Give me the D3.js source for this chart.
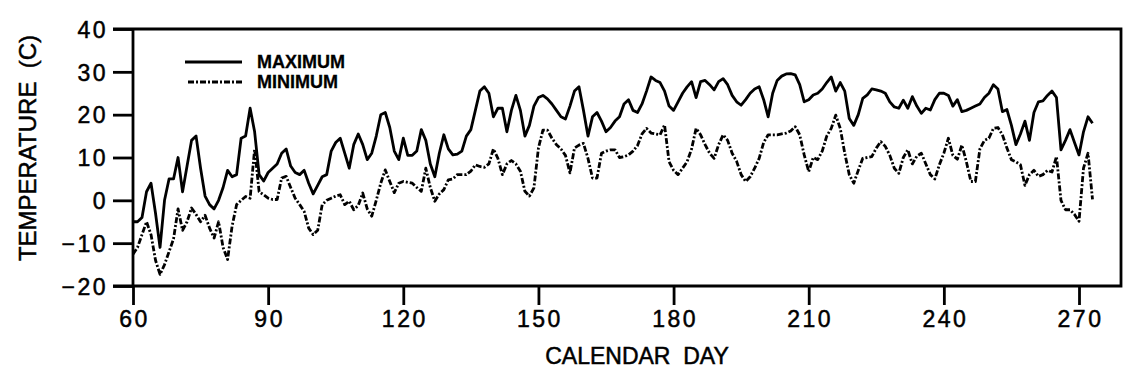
<!DOCTYPE html>
<html lang="en">
<head>
  <meta charset="UTF-8" />
  <title>Temperature by calendar day</title>
  <style>
    body { margin: 0; background: #fff; }
    text {
      font-family: "Liberation Sans", Arial, Helvetica, sans-serif;
      fill: #000;
      stroke: #000;
      stroke-width: 0.5px;
    }
    .tick text { font-size: 23px; letter-spacing: 2.5px; }
    .tick line { stroke: #000; stroke-width: 2.8; }
    .frame { fill: none; stroke: #000; stroke-width: 2.8; }
    .series { fill: none; stroke: #000; stroke-width: 2.8; stroke-linejoin: round; }
    .legend text { font-size: 18px; font-weight: bold; stroke-width: 0.3px; }
  </style>
</head>
<body>
  <svg width="1126" height="381"></svg>

  <script src="https://d3js.org/d3.v7.min.js"></script>
  <script>
    // calendar days 60 .. 273
    const firstDay = 60;
    const xTicks = [60, 90, 120, 150, 180, 210, 240, 270];
    const yTicks = [-20, -10, 0, 10, 20, 30, 40];
    const seriesNames = ['MAXIMUM', 'MINIMUM'];

    const maxTemp = [
      -5, -5, -4, 2, 4, -3, -11, 0, 5, 5, 10, 2, 8, 14, 15, 7.5, 1, -1, -2, 0,
      3, 7, 5.5, 6, 14.5, 15, 21.5, 16, 6, 4.5, 6.5, 7.5, 8.5, 11, 12, 8, 6.5, 6, 7, 4,
      1.5, 3.5, 5.5, 6, 11.5, 13.5, 14.5, 11, 7.5, 13, 15.5, 13, 9.5, 11, 15, 20, 20.5, 17, 11.5, 9.5,
      14.5, 10.5, 10.5, 11.5, 16.5, 14, 8.5, 5.5, 11, 15.3, 12, 10.6, 10.8, 11.5, 15, 16.5, 21, 25.5, 26.5, 25,
      19.5, 21.5, 21.5, 16, 21, 24.5, 21, 15, 17.5, 22, 24, 24.5, 23.7, 22.5, 21, 19.5, 19, 22, 25.5, 26.5,
      21, 15, 19.5, 20.5, 18.5, 16, 17, 18.5, 19.5, 22.5, 23.5, 21, 20.5, 22.5, 25.5, 28.8, 28, 27.5, 25.5, 22,
      21, 23, 25, 26.5, 27.7, 24, 27.7, 28, 27, 25.8, 27.7, 28.4, 27, 24.5, 23, 22.2, 23.5, 25, 26, 26.5,
      23.5, 19.5, 25, 28, 29, 29.5, 29.6, 29.3, 27, 23, 23.5, 24.6, 25, 26, 27.5, 28.8, 25.5, 27.5, 25.5, 19.1,
      17.5, 20, 23.8, 24.6, 26, 25.8, 25.5, 25, 23, 21.8, 21.5, 23.4, 21.5, 24.2, 22, 20.3, 21.5, 21.1, 23.5, 25,
      25, 24.5, 22, 23.5, 20.7, 21, 21.5, 22, 22.5, 24, 25, 27, 26, 20.7, 21.2, 17.5, 13, 15.5, 18.5, 14,
      20.5, 23, 23.2, 24.5, 25.5, 24, 11.8, 14, 16.5, 13.5, 10.6, 16, 19.5, 18
    ];

    const minTemp = [
      -12.6, -11, -8, -5, -8, -14, -17.3, -15, -12, -9, -2, -7, -5, -1.8, -3.3, -5, -3.5, -6.5, -8.8, -5,
      -11, -13.8, -6, -1, 0, 0.9, 0.5, 12, 2, 1.3, 0.5, 0.2, 0.2, 5.2, 5.6, 3, 0.5, -1, -2.6, -6.5,
      -8, -7, -1, 0, 0.5, 1, 1.3, -1, -0.2, -2.2, -1.2, 1.7, -2, -3.7, 0, 4, 7.1, 4.4, 1.8, 4,
      4.4, 4.2, 4, 3, 2.1, 7.5, 3, -0.2, 1.5, 2.5, 4.8, 5, 6, 6, 6, 6.8, 8.3, 7.9, 7.7, 8.5,
      12, 9.8, 6, 8.5, 9.3, 8.5, 6.8, 2.1, 1, 2.9, 12.2, 16.4, 16.4, 14.5, 13, 12, 10.5, 6.4, 12.2, 12.9,
      13.3, 9.8, 5.2, 5.2, 11, 11.5, 11.8, 11.8, 10, 10.2, 10.6, 11.5, 12.8, 15.5, 16.8, 15.7, 15.5, 15.3, 17.6, 9,
      7, 6, 7.5, 9, 12, 16.8, 15.3, 13, 11, 9.8, 13, 15.3, 14, 11, 9.1, 6, 4.4, 5.5, 7.5, 9.8,
      13.5, 15.3, 15.3, 15.3, 15.5, 15.7, 16.2, 17.2, 15.3, 10.6, 6.7, 10, 9.5, 11.5, 15, 16.8, 19.9, 16.8, 11, 6,
      4, 7, 9.8, 10, 10.2, 12.2, 13.7, 12.6, 10.5, 7.5, 6.3, 10, 11.8, 8.5, 10.3, 11, 8.5, 6, 5, 8.3,
      11, 14.5, 10.5, 9.6, 12.9, 9, 4.4, 4.4, 12, 14, 14.5, 16.8, 17, 15.3, 12.2, 9.5, 9, 8.3, 3.5, 6,
      7, 5.6, 6, 7, 6.6, 10.2, 0, -2.2, -2.2, -3.3, -4.9, 7.5, 11, 0.2
    ];

    const svg = d3.select('svg');

    const plotLeft = 133, plotRight = 1121, plotTop = 29, plotBottom = 286;

    // 60 -> 133 px, 270 -> 1079 px
    const x = d3.scaleLinear()
      .domain([60, 270])
      .range([133, 1079]);
    const y = d3.scaleLinear()
      .domain([-20, 40])
      .range([plotBottom, plotTop]);

    const fmt = d => (d < 0 ? '\u2212' + Math.abs(d) : String(d));

    // y axis: outward ticks
    const yAxis = svg.append('g')
      .attr('transform', `translate(${plotLeft},0)`)
      .call(d3.axisLeft(y).tickValues(yTicks).tickSize(20).tickPadding(5).tickFormat(fmt));
    yAxis.select('.domain').remove();
    yAxis.selectAll('.tick text').attr('dy', '0.36em');

    // x axis: ticks point down
    const xAxis = svg.append('g')
      .attr('transform', `translate(0,${plotBottom})`)
      .call(d3.axisBottom(x).tickValues(xTicks).tickSize(19).tickPadding(6).tickFormat(fmt));
    xAxis.select('.domain').remove();
    xAxis.selectAll('.tick text').attr('dx', '1px');

    // frame
    svg.append('path')
      .attr('class', 'frame')
      .attr('d', `M${plotLeft - 20},${plotTop}H${plotRight}V${plotBottom}H${plotLeft - 20}` +
                 `M${plotLeft},${plotTop}V${plotBottom}`);
    svg.select('.frame').clone()
      .attr('d', `M${plotRight},${plotTop}V${plotBottom}`)
      .style('stroke-width', 2);

    const line = d3.line()
      .x((d, i) => x(firstDay + i))
      .y(d => y(d));

    svg.append('path')
      .datum(maxTemp)
      .attr('class', 'series')
      .attr('d', line);

    svg.append('path')
      .datum(minTemp)
      .attr('class', 'series')
      .attr('stroke-dasharray', '6,2,2,2')
      .attr('d', line);

    // legend
    const legend = svg.append('g').attr('class', 'legend');
    seriesNames.forEach((name, i) => {
      const ly = 62 + i * 20;
      legend.append('line')
        .attr('x1', i === 0 ? 185 : 188).attr('x2', 242)
        .attr('y1', ly).attr('y2', ly)
        .attr('stroke', '#000').attr('stroke-width', 2.8)
        .attr('stroke-dasharray', i === 0 ? null : '6,2,2,2');
      legend.append('text')
        .attr('x', 257).attr('y', ly).attr('dy', '0.36em')
        .text(name);
    });

    // axis titles
    svg.append('text')
      .attr('x', 637).attr('y', 364)
      .attr('text-anchor', 'middle')
      .style('font-size', '23px')
      .style('white-space', 'pre')
      .text('CALENDAR  DAY');

    svg.append('text')
      .attr('transform', 'translate(36,148) rotate(-90)')
      .attr('text-anchor', 'middle')
      .style('font-size', '24px')
      .style('white-space', 'pre')
      .text('TEMPERATURE  (C)');
  </script>
</body>
</html>
